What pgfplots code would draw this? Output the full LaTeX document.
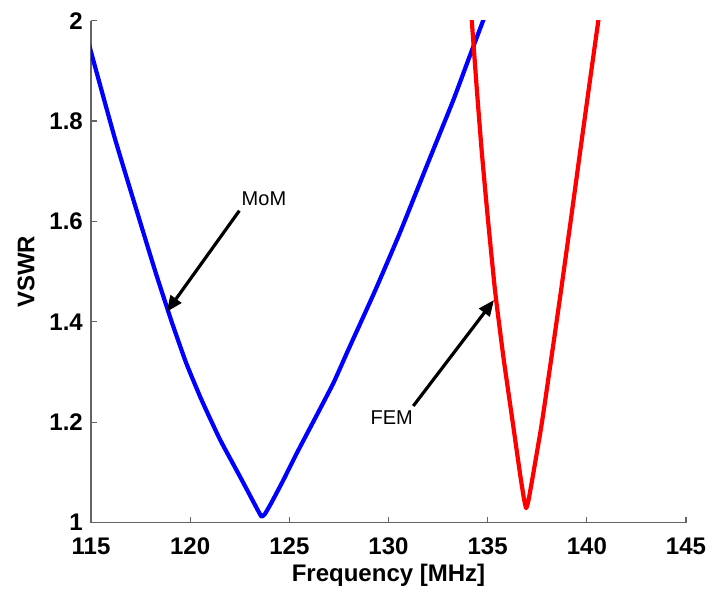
\documentclass[border=0pt]{standalone}
\usepackage{pgfplots}
\pgfplotsset{compat=1.18}
\usepackage{fontspec}
\setmainfont{Liberation Sans}
\usetikzlibrary{arrows.meta,calc}
\definecolor{axgray}{RGB}{100,100,100}
\begin{document}
\begin{tikzpicture}
\begin{axis}[
  width=595pt, height=502pt, scale only axis,
  xmin=115, xmax=145, ymin=1, ymax=2,
  xtick={115,120,...,145},
  ytick={1,1.2,1.4,1.6,1.8,2},
  yticklabels={1,1.2,1.4,1.6,1.8,2},
  axis x line*=bottom, axis y line*=left,
  axis line style={axgray, line width=1.2pt, -},
  tick align=inside,
  major tick length=6pt,
  tick style={axgray, line width=1.2pt},
  /pgf/number format/assume math mode=true,
  ticklabel style={font=\fontsize{24}{28}\selectfont\bfseries, text=black},
  xticklabel style={anchor=north, inner sep=0pt, yshift=-15pt},
  yticklabel style={anchor=east, inner sep=0pt, xshift=-8pt},
  xlabel={Frequency [MHz]},
  ylabel={VSWR},
  label style={font=\fontsize{24}{28}\selectfont\bfseries},
  xlabel style={at={(axis description cs:0.5,0)}, anchor=north, inner sep=0pt, yshift=-41pt},
  ylabel style={at={(axis description cs:-0.1092,0.5)}, anchor=center, inner sep=0pt, rotate=0},
]
\coordinate (sw) at (rel axis cs:0,0);
\coordinate (ne) at (rel axis cs:1,1);
\addplot[blue, line width=4.2pt, line join=round, smooth, tension=0.3] coordinates {
 (114.9,1.953) (115,1.938) (116.2,1.766) (117.47,1.60) (118.27,1.497) (119.07,1.40)
 (119.8,1.318) (120.58,1.244) (121.5,1.166) (122.51,1.092) (123.1,1.048)
 (123.45,1.022) (123.61,1.012) (123.78,1.018) (124.1,1.04) (124.7,1.085)
 (125.37,1.138) (126.3,1.208) (127.22,1.278) (127.98,1.345) (129.3,1.460)
 (130.58,1.578) (131.9,1.708) (133.27,1.842) (134.1,1.930) (134.77,2.0) (135.1,2.035)
};
\addplot[red, line width=4.2pt, line join=round, smooth, tension=0.3] coordinates {
 (134.13,2.04) (134.2,2.0) (134.45,1.865) (134.7,1.74) (135.0,1.61) (135.37,1.463)
 (135.79,1.331) (136.27,1.198) (136.63,1.098) (136.82,1.05) (136.94,1.029)
 (137.06,1.045) (137.3,1.098) (137.73,1.198) (138.2,1.325) (138.69,1.46)
 (139.2,1.605) (139.7,1.75) (140.2,1.893) (140.58,2.0) (140.72,2.04)
};
\draw[line width=3.2pt, -{Triangle[length=16pt,width=13pt]}] (axis cs:122.48,1.6215) -- (axis cs:118.82,1.420);
\draw[line width=3.2pt, -{Triangle[length=16pt,width=13pt]}] (axis cs:131.25,1.2325) -- (axis cs:135.32,1.4436);
\node[font=\fontsize{20}{24}\selectfont] at (axis cs:123.72,1.646) {MoM};
\node[font=\fontsize{20}{24}\selectfont] at (axis cs:130.16,1.2086) {FEM};
\end{axis}
\pgfresetboundingbox
\path[use as bounding box] ($(sw)+(-91pt,-67.3pt)$) rectangle ($(ne)+(26pt,20.7pt)$);
\end{tikzpicture}
\end{document}
